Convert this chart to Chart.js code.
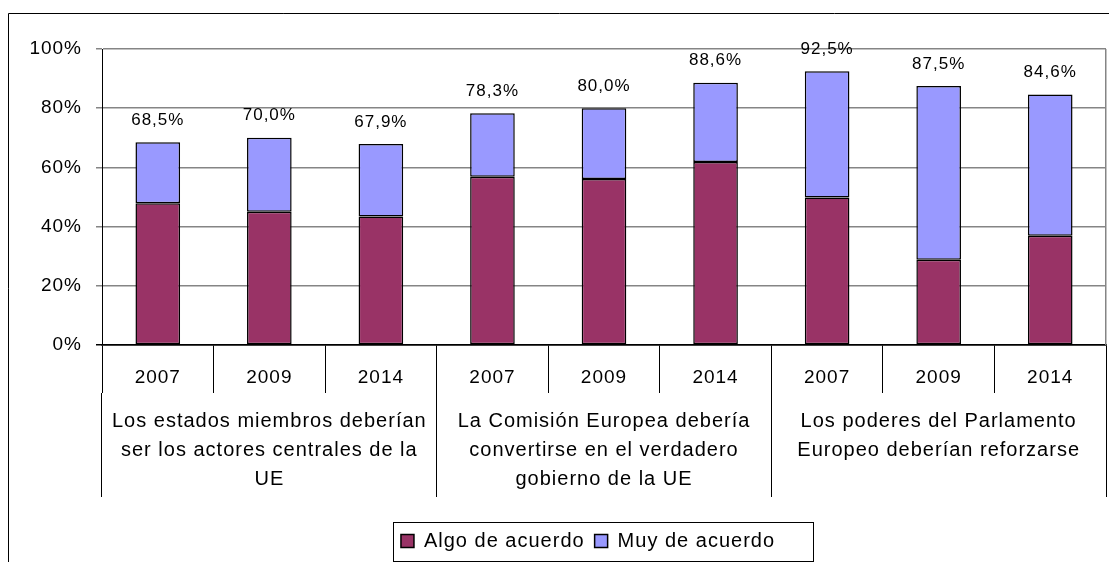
<!DOCTYPE html>
<html><head><meta charset="utf-8">
<script src="https://cdn.jsdelivr.net/npm/chart.js@4/dist/chart.umd.min.js"></script>
<style>html,body{margin:0;padding:0;background:#fff;}canvas{display:block;}</style>
</head><body>
<canvas id="c" width="1109" height="562"></canvas>
<script>
// ---- data ----
const years = ['2007','2009','2014','2007','2009','2014','2007','2009','2014'];
const groups = [
  ['Los estados miembros deberían','ser los actores centrales de la','UE'],
  ['La Comisión Europea debería','convertirse en el verdadero','gobierno de la UE'],
  ['Los poderes del Parlamento','Europeo deberían reforzarse']
];
const seriesNames = ['Algo de acuerdo','Muy de acuerdo'];
const algo   = [47.9, 45.0, 43.4, 56.8, 56.1, 61.8, 49.8, 28.8, 36.9];
const muy    = [20.6, 25.0, 24.5, 21.5, 23.9, 26.8, 42.7, 58.7, 47.7];
const totals = [68.5, 70.0, 67.9, 78.3, 80.0, 88.6, 92.5, 87.5, 84.6];
const yMin = 0, yMax = 100, yStep = 20;

const FONT = "'Liberation Sans', Arial, sans-serif";
Chart.defaults.font.family = FONT;
Chart.defaults.color = '#000';

const deco = {
  id: 'deco',
  beforeLayout(chart){ chart.ctx.letterSpacing = '1px'; },
  afterLayout(chart){
    // Excel-style legend placement: slightly right of the canvas centre
    const lg = chart.legend;
    if (lg) { lg.left += 25; lg.right += 25; }
  },
  beforeDraw(chart){ chart.ctx.letterSpacing = '1px'; },
  afterDatasetsDraw(chart){
    const ctx = chart.ctx, ys = chart.scales.y;
    const meta = chart.getDatasetMeta(1);
    ctx.save();
    ctx.letterSpacing = '1px';
    ctx.font = "17px " + FONT;
    ctx.fillStyle = '#000';
    ctx.textAlign = 'center';
    ctx.textBaseline = 'middle';
    totals.forEach((t, i) => {
      const x = meta.data[i].x;
      const y = ys.getPixelForValue(t) - 22;
      ctx.fillText(t.toFixed(1).replace('.', ',') + '%', x, y);
    });
    ctx.restore();
  },
  afterDraw(chart){
    const ctx = chart.ctx, a = chart.chartArea;
    ctx.save();
    // right border of plot area
    ctx.strokeStyle = '#858585';
    ctx.lineWidth = 1.5;
    ctx.beginPath();
    ctx.moveTo(a.right - 0.25, a.top);
    ctx.lineTo(a.right - 0.25, a.bottom);
    ctx.stroke();
    // outer chart frame (cropped)
    ctx.strokeStyle = '#000';
    ctx.lineWidth = 1;
    ctx.beginPath();
    ctx.moveTo(8.5, chart.height + 5);
    ctx.lineTo(8.5, 13.5);
    ctx.lineTo(chart.width + 5, 13.5);
    ctx.stroke();
    // legend frame
    const hb = chart.legend.legendHitBoxes;
    if (hb && hb.length) {
      const l = hb[0].left - 8;
      const r = hb[hb.length-1].left + hb[hb.length-1].width + 38;
      const cy = hb[0].top + hb[0].height / 2;
      ctx.strokeStyle = '#000';
      ctx.lineWidth = 1;
      ctx.strokeRect(Math.round(l) + 0.5, Math.round(cy - 19) + 0.5, Math.round(r - l), 39);
    }
    ctx.restore();
  }
};

new Chart(document.getElementById('c'), {
  type: 'bar',
  data: {
    labels: years,
    datasets: [
      { label: seriesNames[0], data: algo, backgroundColor: '#993366', borderColor: '#000',
        borderWidth: 1.5, borderSkipped: false, xAxisID: 'x', yAxisID: 'y', stack: 's' },
      { label: seriesNames[1], data: muy, backgroundColor: '#9999FF', borderColor: '#000',
        borderWidth: 1.5, borderSkipped: false, xAxisID: 'x', yAxisID: 'y', stack: 's' }
    ]
  },
  options: {
    responsive: false,
    animation: false,
    events: [],
    layout: { padding: { top: 49, left: 20, right: 3, bottom: 1 } },
    datasets: { bar: { barPercentage: 0.4, categoryPercentage: 1.0 } },
    scales: {
      y: {
        stacked: true, min: yMin, max: yMax,
        ticks: { stepSize: yStep, padding: 14, font: { size: 19 }, color: '#000',
                 callback: v => v + '%' },
        grid: { color: c => (c.tick && c.tick.value === 0) ? '#000' : '#858585',
                lineWidth: 1.5, tickLength: 6 },
        border: { display: true, color: '#000', width: 1 },
        afterFit: s => { s.width = 82; }
      },
      x: {
        stacked: true, position: 'bottom', weight: 0, offset: true,
        ticks: { font: { size: 19 }, color: '#000', padding: -27, maxRotation: 0, autoSkip: false },
        grid: { offset: true, drawOnChartArea: false, tickLength: 48, color: '#000', lineWidth: 1 },
        border: { display: true, color: '#000', width: 1.5 },
        afterFit: s => { s.height = 48; }
      },
      x2: {
        type: 'category', labels: groups, position: 'bottom', weight: 1, offset: true,
        ticks: { font: { size: 20, lineHeight: 1.45 }, color: '#000', padding: -90, maxRotation: 0, autoSkip: false },
        grid: { offset: true, drawOnChartArea: false, tickLength: 104, color: '#000', lineWidth: 1 },
        border: { display: false },
        afterFit: s => { s.height = 128; }
      }
    },
    plugins: {
      tooltip: { enabled: false },
      legend: {
        position: 'bottom',
        labels: { font: { size: 20 }, color: '#000', boxWidth: 13, boxHeight: 13, padding: 10 }
      }
    }
  },
  plugins: [deco]
});
</script>
</body></html>
